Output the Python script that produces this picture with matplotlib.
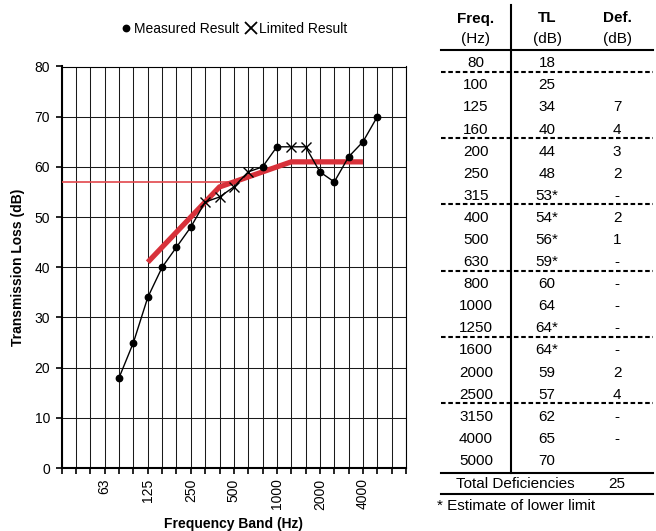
import matplotlib
matplotlib.use('Agg')
import matplotlib.pyplot as plt
from matplotlib.lines import Line2D

plt.rcParams['font.family'] = ['Liberation Sans', 'DejaVu Sans']

# ---------------- data ----------------
axis_bands = ['31.5', '40', '50', '63', '80', '100', '125', '160', '200', '250', '315',
              '400', '500', '630', '800', '1000', '1250', '1600', '2000', '2500', '3150',
              '4000', '5000', '6300', '8000']
labeled_bands = ['63', '125', '250', '500', '1000', '2000', '4000']

freqs = ['80', '100', '125', '160', '200', '250', '315', '400', '500', '630', '800',
         '1000', '1250', '1600', '2000', '2500', '3150', '4000', '5000']
tl_values = [18, 25, 34, 40, 44, 48, 53, 54, 56, 59, 60, 64, 64, 64, 59, 57, 62, 65, 70]
limited_bands = ['315', '400', '500', '630', '1250', '1600']
tl_text = ['18', '25', '34', '40', '44', '48', '53*', '54*', '56*', '59*', '60', '64',
           '64*', '64*', '59', '57', '62', '65', '70']
def_text = ['', '', '7', '4', '3', '2', '-', '2', '1', '-', '-', '-', '-', '-', '2', '4',
            '-', '-', '']
total_deficiencies = '25'
group_ends = ['80', '160', '315', '630', '1250', '2500']

contour_bands = ['125', '400', '1250', '4000']
contour_values = [41, 56, 61, 61]
ref_bands = ['31.5', '500']
ref_value = 57

# ---------------- figure ----------------
W, H = 656, 531
fig = plt.figure(figsize=(W / 100, H / 100), dpi=100)

def fx(px):
    return px / W

def fy(py):
    return 1 - py / H

ax_l, ax_r, ax_t, ax_b = 61.7, 406, 66.5, 468
ax = fig.add_axes([fx(ax_l), fy(ax_b), (ax_r - ax_l) / W, (ax_b - ax_t) / H])

idx = {b: i for i, b in enumerate(axis_bands)}
xs = [idx[f] for f in freqs]

# reference lines
ax.plot([idx[b] for b in ref_bands], [ref_value, ref_value], color='#E2474C', lw=1.2,
        zorder=3, solid_capstyle='butt')
ax.plot([idx[b] for b in contour_bands], contour_values, color='#D8313A', lw=3.8,
        zorder=4, solid_capstyle='butt', solid_joinstyle='miter')

# measured line
ax.plot(xs, tl_values, color='black', lw=1.0, zorder=5)
mx = [x for x, f in zip(xs, freqs) if f not in limited_bands]
my = [v for v, f in zip(tl_values, freqs) if f not in limited_bands]
lx = [x for x, f in zip(xs, freqs) if f in limited_bands]
ly = [v for v, f in zip(tl_values, freqs) if f in limited_bands]
ax.plot(mx, my, 'o', color='black', ms=4.6, zorder=6)
ax.plot(lx, ly, 'x', color='black', ms=7.5, mew=1.0, zorder=6)

ax.set_xlim(0, len(axis_bands) - 1)
ax.set_ylim(0, 80)
ax.set_xticks(range(len(axis_bands)))
ax.set_xticklabels([b if b in labeled_bands else '' for b in axis_bands],
                   rotation=90, fontsize=10)
ax.set_yticks(range(0, 81, 10))
ax.tick_params(axis='y', labelsize=10, length=4, width=1.2, pad=4.5, direction='out')
ax.tick_params(axis='x', length=4, width=1.2, pad=3.5, direction='out')
ax.grid(True, color='#1a1a1a', lw=0.75, zorder=1)
ax.set_axisbelow(True)
for s in ['left', 'bottom']:
    ax.spines[s].set_linewidth(1.5)
for s in ['top', 'right']:
    ax.spines[s].set_linewidth(0.8)

ax.set_ylabel('Transmission Loss (dB)', fontsize=10, fontweight='bold')
ax.yaxis.set_label_coords((18 - ax_l) / (ax_r - ax_l), 0.5)
ax.yaxis.label.set_va('center')
ax.set_xlabel('Frequency Band (Hz)', fontsize=10, fontweight='bold')
ax.xaxis.set_label_coords(0.5, (ax_b - 524) / (ax_b - ax_t))
ax.xaxis.label.set_va('center')

handles = [Line2D([], [], marker='o', ls='none', color='black', ms=4.6),
           Line2D([], [], marker='x', ls='none', color='black', ms=8, mew=1.3)]
fig.legend(handles, ['Measured Result', 'Limited Result'], loc='center',
           bbox_to_anchor=(fx(234), fy(29)), ncol=2, frameon=False, fontsize=10,
           handlelength=0.7, handletextpad=0.25, columnspacing=0.5, borderpad=0)

# ---------------- table ----------------
fs_t = 11
em = fs_t * 100 / 72
off = 0.36 * em
cx_f, cx_t, cx_d = 476, 547, 617
tl_left, tl_right = 441, 653

def ttext(x, y, s, **kw):
    fig.text(fx(x), fy(y + off), s, ha=kw.pop('ha', 'center'), va='baseline',
             fontsize=fs_t, **kw)

def hline(y, dashed=False):
    fig.add_artist(Line2D([fx(tl_left), fx(tl_right)], [fy(y), fy(y)],
                          transform=fig.transFigure, color='black', lw=1.5,
                          ls=(0, (2.2, 1.3)) if dashed else '-'))

ttext(cx_f, 17, 'Freq.', fontweight='bold')
ttext(cx_t, 17, 'TL', fontweight='bold')
ttext(cx_d, 17, 'Def.', fontweight='bold')
ttext(cx_f, 37, '(Hz)')
ttext(cx_t, 37, '(dB)')
ttext(cx_d, 37, '(dB)')
hline(50)

pitch = 22.1
y0 = 61.7
for i, f in enumerate(freqs):
    y = y0 + i * pitch
    ttext(cx_f, y, f)
    ttext(cx_t, y, tl_text[i])
    if def_text[i]:
        ttext(cx_d, y, def_text[i])
    if f in group_ends:
        hline(y + 10, dashed=True)

hline(472.5)
ttext(515, 483, 'Total Deficiencies')
ttext(cx_d, 483, total_deficiencies)
hline(493.5)
ttext(437, 505, '* Estimate of lower limit', ha='left')

fig.add_artist(Line2D([fx(511), fx(511)], [fy(5), fy(472.5)],
                      transform=fig.transFigure, color='black', lw=1.5))

fig.savefig('out.png', dpi=100)
